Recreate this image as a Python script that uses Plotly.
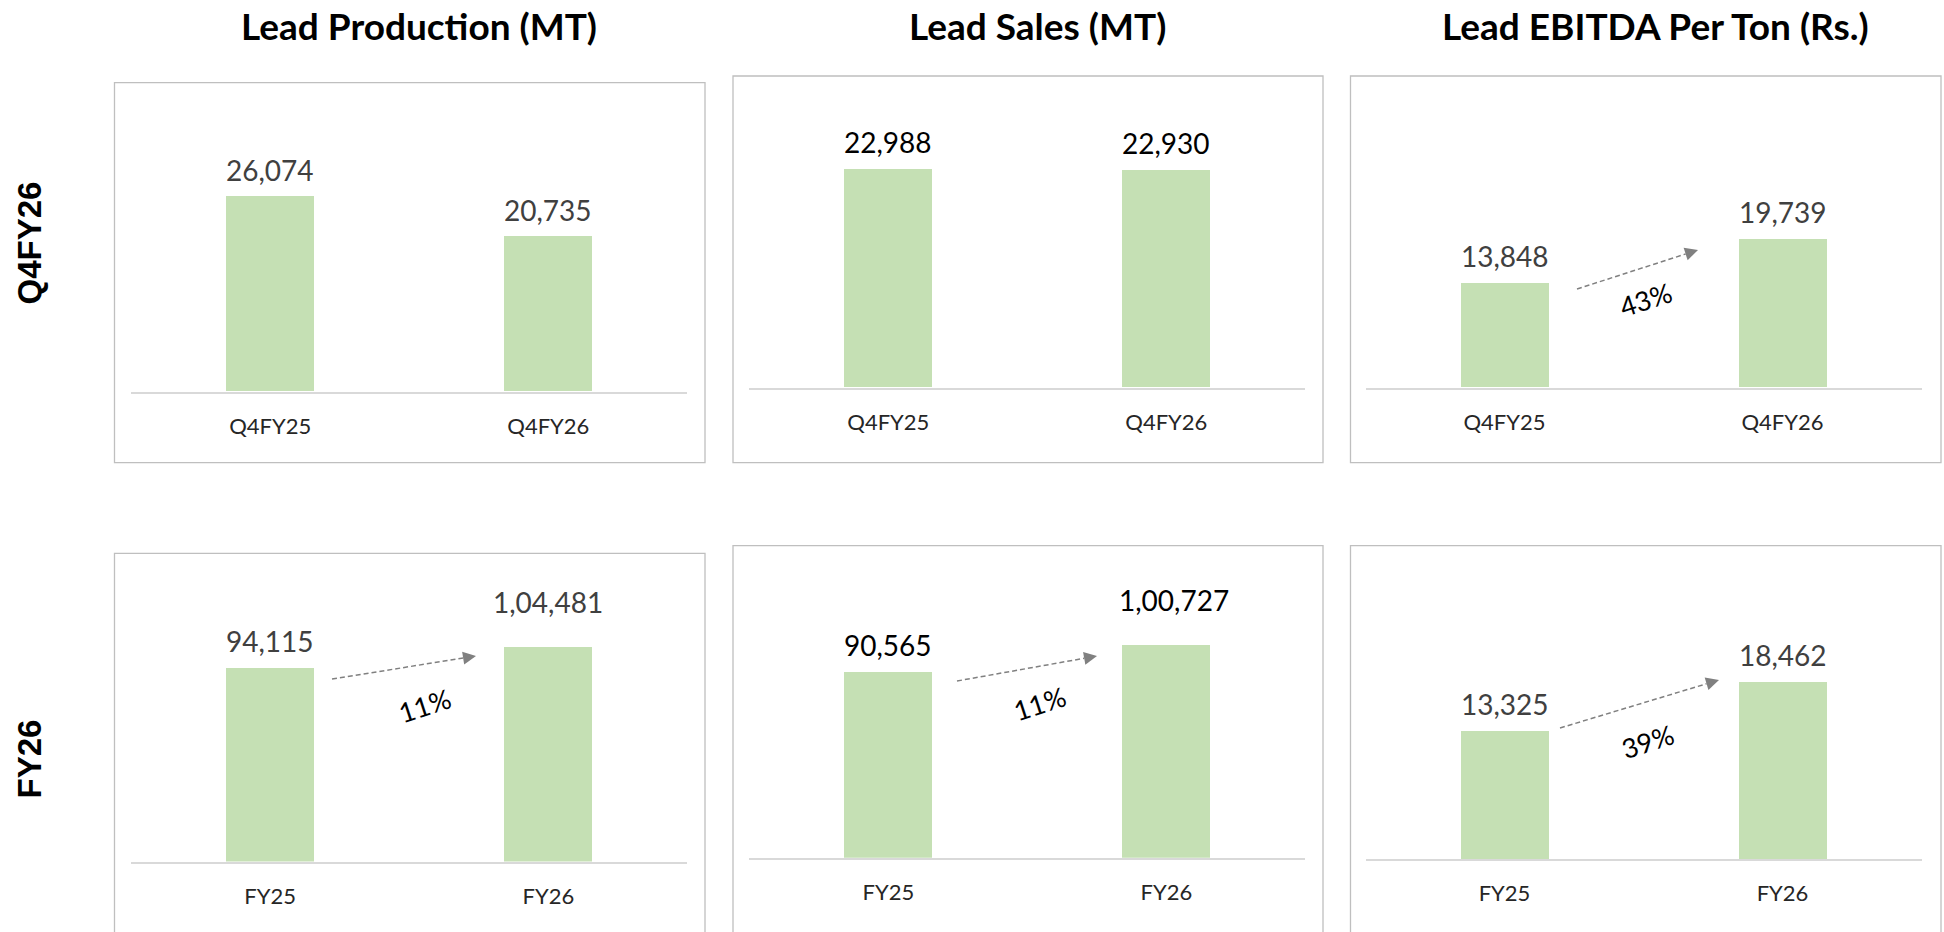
import math

import plotly.graph_objects as go

# Data
quarter_labels = ["Q4FY25", "Q4FY26"]
year_labels = ["FY25", "FY26"]

production_q = [26074, 20735]
sales_q = [22988, 22930]
ebitda_q = [13848, 19739]

production_fy = [94115, 104481]
sales_fy = [90565, 100727]
ebitda_fy = [13325, 18462]

panel_titles = ["Lead Production (MT)", "Lead Sales (MT)", "Lead EBITDA Per Ton (Rs.)"]
row_titles = ["Q4FY26", "FY26"]

W, H = 1944, 932
BAR_COLOR = "#c5e0b4"
FONT = "Lato"


def px_x(x):
    return x / W


def px_y(y):
    return 1 - y / H


def fmt_indian(v):
    s = str(int(round(v)))
    if len(s) <= 3:
        return s
    head, tail = s[:-3], s[-3:]
    groups = []
    while len(head) > 2:
        groups.insert(0, head[-2:])
        head = head[:-2]
    if head:
        groups.insert(0, head)
    return ",".join(groups + [tail])


# panel geometry in pixels: axis x-extent, baseline, top of plot area, y range, border box
panels = [
    dict(vals=production_q, cats=quarter_labels, x=(131.1, 687.4), base=391.5, top=167.4,
         yr=(0, 30000), box=(114.5, 82.7, 705, 462.7), lab="#404040", arrow=None),
    dict(vals=sales_q, cats=quarter_labels, x=(749.3, 1305.3), base=387.5, top=150.1,
         yr=(0, 25000), box=(733, 76, 1323, 462.7), lab="#000000", arrow=None),
    dict(vals=ebitda_q, cats=quarter_labels, x=(1365.5, 1921.5), base=387.7, top=199.3,
         yr=(0, 25000), box=(1350.5, 76, 1941, 462.7), lab="#404040",
         arrow=((1577, 289), (1698, 250), (1645, 299))),
    dict(vals=production_fy, cats=year_labels, x=(131.1, 687.4), base=861.5, top=614.8,
         yr=(0, 120000), box=(114.5, 553.3, 705, 960), lab="#404040",
         arrow=((332, 679), (476, 656), (424, 705))),
    dict(vals=sales_fy, cats=year_labels, x=(749.3, 1305.3), base=857.7, top=594.2,
         yr=(20000, 120000), box=(733, 545.7, 1323, 960), lab="#000000",
         arrow=((957, 681), (1097, 656), (1039, 703))),
    dict(vals=ebitda_fy, cats=year_labels, x=(1365.5, 1921.5), base=859, top=619.2,
         yr=(0, 25000), box=(1350.5, 545.7, 1941, 960), lab="#404040",
         arrow=((1560, 728), (1719, 680), (1647, 741))),
]

fig = go.Figure()
shapes = []
annotations = []
layout_axes = {}

for i, p in enumerate(panels, start=1):
    sfx = "" if i == 1 else str(i)
    xa, ya = "x" + sfx, "y" + sfx

    fig.add_trace(
        go.Bar(
            x=p["cats"],
            y=p["vals"],
            xaxis=xa,
            yaxis=ya,
            width=0.318,
            marker=dict(color=BAR_COLOR, line=dict(width=0)),
            hoverinfo="x+y",
        )
    )

    layout_axes["xaxis" + sfx] = dict(
        domain=[px_x(p["x"][0]), px_x(p["x"][1])],
        anchor=ya,
        type="category",
        range=[-0.5, 1.5],
        showline=True,
        linecolor="#d9d9d9",
        linewidth=2,
        showgrid=False,
        zeroline=False,
        ticks="",
        ticklabelstandoff=14,
        tickfont=dict(family=FONT, size=22, color="#262626"),
        fixedrange=True,
    )
    layout_axes["yaxis" + sfx] = dict(
        domain=[px_y(p["base"]), px_y(p["top"])],
        anchor=xa,
        range=list(p["yr"]),
        visible=False,
        fixedrange=True,
    )

    bx0, by0, bx1, by1 = p["box"]
    shapes.append(dict(
        type="rect", xref="paper", yref="paper",
        x0=px_x(bx0), x1=px_x(bx1), y0=px_y(by1), y1=px_y(by0),
        line=dict(color="#bfbfbf", width=1.3), fillcolor="rgba(0,0,0,0)", layer="below",
    ))

    # value labels
    for c, v in zip(p["cats"], p["vals"]):
        annotations.append(dict(
            x=c, y=v, xref=xa, yref=ya,
            text=fmt_indian(v), showarrow=False,
            yanchor="middle", yshift=45 if v >= 100000 else 27,
            xshift=8 if (v >= 100000 and p["lab"] == "#000000") else 0,
            font=dict(family=FONT, size=28, color=p["lab"]),
        ))

    # growth arrow (dashed) + percentage
    if p["arrow"]:
        (x0, y0), (x1, y1), (tx, ty) = p["arrow"]
        dx, dy = x1 - x0, y1 - y0
        ln = math.hypot(dx, dy)
        ux, uy = dx / ln, dy / ln
        hl, hw = 13, 6.5
        bxh, byh = x1 - ux * hl, y1 - uy * hl
        shapes.append(dict(
            type="line", xref="paper", yref="paper",
            x0=px_x(x0), y0=px_y(y0), x1=px_x(bxh), y1=px_y(byh),
            line=dict(color="#808080", width=1.5, dash="5px,3px"),
        ))
        pts = [(x1, y1), (bxh - uy * hw, byh + ux * hw), (bxh + uy * hw, byh - ux * hw)]
        path = "M " + " L ".join(f"{px_x(a):.5f},{px_y(b):.5f}" for a, b in pts) + " Z"
        shapes.append(dict(
            type="path", xref="paper", yref="paper", path=path,
            fillcolor="#808080", line=dict(color="#808080", width=0),
        ))
        growth = (p["vals"][1] / p["vals"][0] - 1) * 100
        annotations.append(dict(
            x=px_x(tx), y=px_y(ty), xref="paper", yref="paper",
            text=f"{growth:.0f}%", showarrow=False, textangle=-18,
            xanchor="center", yanchor="middle",
            font=dict(family=FONT, size=27, color="#000000"),
        ))

# column titles
for title, cx in zip(panel_titles, [418.7, 1037, 1655]):
    annotations.append(dict(
        x=px_x(cx), y=px_y(25), xref="paper", yref="paper",
        text=f"<b>{title}</b>", showarrow=False,
        xanchor="center", yanchor="middle",
        font=dict(family=FONT, size=37, color="#000000"),
    ))

# row titles
for title, cy in zip(row_titles, [243.5, 759.5]):
    annotations.append(dict(
        x=px_x(29), y=px_y(cy), xref="paper", yref="paper",
        text=f"<b>{title}</b>", showarrow=False, textangle=-90,
        xanchor="center", yanchor="middle",
        font=dict(family="Liberation Sans", size=33, color="#000000"),
    ))

fig.update_layout(
    width=W,
    height=H,
    margin=dict(l=0, r=0, t=0, b=0),
    paper_bgcolor="white",
    plot_bgcolor="white",
    showlegend=False,
    bargap=0,
    shapes=shapes,
    annotations=annotations,
    **layout_axes,
)

fig.write_html(
    "out.html",
    config={"displayModeBar": False},
    post_script="document.body.style.margin='0';",
)
